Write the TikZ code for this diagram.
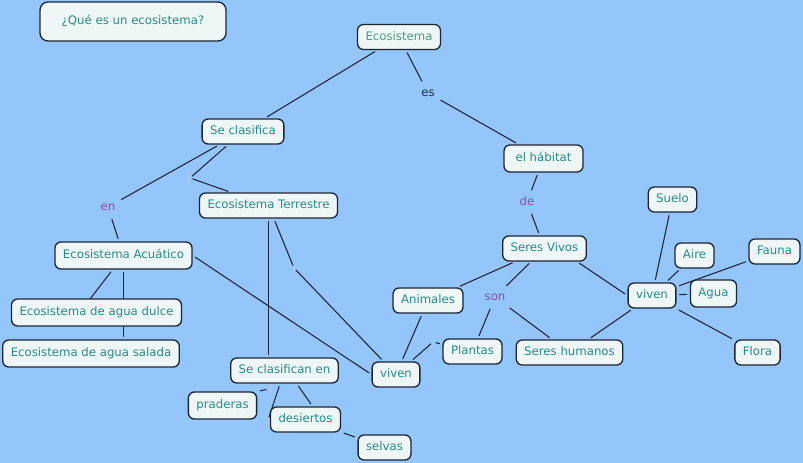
\documentclass[tikz,border=0pt]{standalone}
\usepackage{fontspec}
\setmainfont{DejaVu Sans}
\usetikzlibrary{positioning, calc}
\definecolor{cmapbg}{RGB}{148, 198, 251}
\definecolor{cmapfill}{RGB}{238, 246, 246}
\definecolor{cmapedge}{RGB}{28, 38, 50}
\definecolor{conceptteal}{RGB}{38, 140, 138}
\definecolor{rootgreen}{RGB}{76, 160, 124}
\definecolor{linkpurple}{RGB}{142, 77, 158}
\definecolor{linkdark}{RGB}{30, 44, 68}
\definecolor{blankmark}{RGB}{172, 208, 246}
\pgfdeclarelayer{back}
\pgfdeclarelayer{lines}
\pgfsetlayers{back,lines,main}

\begin{document}
\begin{tikzpicture}[x=0.75pt, y=-0.75pt,
    concept/.style={draw=cmapedge, line width=1pt, fill=cmapfill, rounded corners=4.5pt,
        text=conceptteal, font=\fontsize{8.8}{10}\selectfont, text height=6.6pt, text depth=1.9pt,
        minimum height=18.75pt, inner xsep=6pt, inner ysep=2pt},
    tall/.style={minimum height=20.25pt},
    linkword/.style={font=\fontsize{8.8}{10}\selectfont, text height=6.6pt, text depth=1.9pt, inner sep=2.5pt},
    link/.style={draw=cmapedge, line width=0.8pt, shorten <=2pt, shorten >=2pt},
    blank/.style={draw=blankmark, line width=0.6pt}]
    \useasboundingbox (0,0) rectangle (803,463);
    \begin{pgfonlayer}{back}
        \fill[cmapbg] (0,0) rectangle (803,463);
    \end{pgfonlayer}

    % pregunta
    \node[concept, minimum width=139.5pt, minimum height=29.25pt, rounded corners=6pt] (pregunta) at (133,21.5) {¿Qué es un ecosistema?};

    % conceptos
    \node[concept, text=rootgreen] (eco) at (399,37) {Ecosistema};
    \node[concept] (seclas) at (243,131.5) {Se clasifica};
    \node[concept, tall, minimum width=59.25pt] (habitat) at (543.5,158.5) {el hábitat};
    \node[concept] (suelo) at (672.5,199.5) {Suelo};
    \node[concept] (terr) at (268.5,205.5) {Ecosistema Terrestre};
    \node[concept, tall] (acua) at (123.5,255.5) {Ecosistema Acuático};
    \node[concept] (vivos) at (544.5,248.5) {Seres Vivos};
    \node[concept] (aire) at (694.5,255.5) {Aire};
    \node[concept] (fauna) at (774.5,251.5) {Fauna};
    \node[concept] (vivenR) at (652,295.5) {viven};
    \node[concept, tall] (agua) at (713.5,293.5) {Agua};
    \node[concept] (animales) at (428,300.5) {Animales};
    \node[concept, tall] (dulce) at (96.5,312.5) {Ecosistema de agua dulce};
    \node[concept] (flora) at (757.5,352.5) {Flora};
    \node[concept] (plantas) at (472.5,351.5) {Plantas};
    \node[concept] (humanos) at (569.5,352.5) {Seres humanos};
    \node[concept, tall] (salada) at (91,353.5) {Ecosistema de agua salada};
    \node[concept] (clasen) at (284.5,370.5) {Se clasifican en};
    \node[concept] (vivenL) at (396,374.5) {viven};
    \node[concept, tall] (praderas) at (222.5,405.5) {praderas};
    \node[concept] (desiertos) at (305.5,419.5) {desiertos};
    \node[concept] (selvas) at (384.5,447.5) {selvas};

    % frases de enlace
    \node[linkword, text=linkdark] (es) at (428,93) {es};
    \node[linkword, text=linkpurple] (en) at (108,207) {en};
    \node[linkword, text=linkpurple] (de) at (527,202) {de};
    \node[linkword, text=linkpurple] (son) at (495,297) {son};

    % enlaces sin texto
    \coordinate (b1) at (190,178);
    \coordinate (b2) at (294,268);
    \coordinate (b3) at (87,303);
    \coordinate (b4) at (269,389);
    \coordinate (b5) at (268,420);
    \coordinate (b6) at (433,342);

    \begin{pgfonlayer}{lines}
        \draw[blank] (188,173) -- (188,184);
        \draw[blank] (293,262) -- (293,275);
        \draw[blank] (270,384) -- (270,392);
        \draw[blank] (268,415) -- (268,425);
        \draw[blank] (433,335) -- (433,348);

        % Ecosistema
        \draw[link] (eco) -- (seclas);
        \draw[link] (eco) -- (es);
        \draw[link] (es) -- (habitat);
        \draw[link] (habitat) -- (de);
        \draw[link] (de) -- (vivos);

        % tipos de ecosistema
        \draw[link] (seclas) -- (en);
        \draw[link] (en) -- (acua);
        \draw[link] (seclas) -- (b1);
        \draw[link] (b1) -- (terr);
        \draw[link] (acua) -- (b3);
        \draw[link] (acua.south) -- (acua.south |- salada.north);
        \draw[link] (acua.east) -- (vivenL.west);
        \draw[link] (terr.south) -- (terr.south |- clasen.north);
        \draw[link] (terr) -- (b2);
        \draw[link] (b2) -- (vivenL);
        \draw[link] (clasen) -- (b5);
        \draw[link] (b4) -- (praderas.north east);
        \draw[link] (clasen.313) -- (desiertos.62);
        \draw[link] (desiertos) -- (selvas);

        % seres vivos
        \draw[link] (vivos) -- (animales);
        \draw[link] (vivos) -- (son);
        \draw[link] (son) -- (plantas);
        \draw[link] (son) -- (humanos);
        \draw[link] (vivos.338) -- (vivenR.west);
        \draw[link] (animales) -- (vivenL);
        \draw[link] (plantas) -- (b6);
        \draw[link] (b6) -- (vivenL);

        % donde viven
        \draw[link] (suelo) -- (vivenR);
        \draw[link] (aire) -- (vivenR);
        \draw[link] (fauna) -- (vivenR);
        \draw[link] (agua) -- (vivenR);
        \draw[link] (vivenR) -- (flora);
        \draw[link] (vivenR) -- (humanos);
    \end{pgfonlayer}
\end{tikzpicture}
\end{document}
